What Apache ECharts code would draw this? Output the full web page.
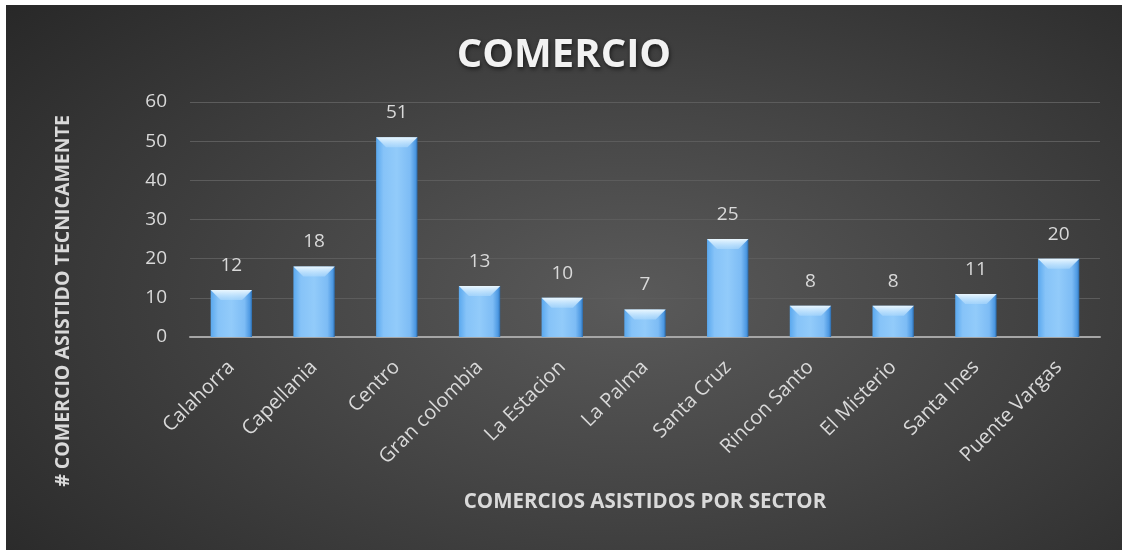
<!DOCTYPE html>
<html>
<head>
<meta charset="utf-8">
<script src="https://cdn.jsdelivr.net/npm/echarts@6/dist/echarts.min.js"></script>
<style>
  html, body { margin: 0; padding: 0; background: #ffffff; width: 1122px; height: 550px; overflow: hidden; }
  #chart { position: absolute; left: 6px; top: 5px; width: 1116px; height: 545px;
    background: radial-gradient(ellipse 75% 85% at 56% 54%, #5a5a5a 0%, #464646 40%, #272727 100%); }
</style>
</head>
<body>
<div id="chart"></div>
<script>
const categories = ['Calahorra', 'Capellania', 'Centro', 'Gran colombia', 'La Estacion', 'La Palma', 'Santa Cruz', 'Rincon Santo', 'El Misterio', 'Santa Ines', 'Puente Vargas'];
const values = [12, 18, 51, 13, 10, 7, 25, 8, 8, 11, 20];
const yTicks = { min: 0, max: 60, interval: 10 };
const titleText = 'COMERCIO';
const xTitle = 'COMERCIOS ASISTIDOS POR SECTOR';
const yTitle = '# COMERCIO ASISTIDO TECNICAMENTE';

const FONT = 'Open Sans';
const chart = echarts.init(document.getElementById('chart'), null, { renderer: 'canvas' });

function bevelItem(params, api) {
  const top = api.coord([api.value(0), api.value(1)]);
  const w = api.size([1, 0])[0] * 0.5;
  const b = Math.min(10, w / 4);
  const xl = top[0] - w / 2, xr = top[0] + w / 2, y = top[1];
  return {
    type: 'polygon',
    shape: { points: [[xl, y], [xr, y], [xr - b, y + b], [xl + b, y + b]] },
    style: {
      fill: new echarts.graphic.LinearGradient(0, 0, 0, 1, [
        { offset: 0, color: 'rgba(240,250,255,0.95)' },
        { offset: 1, color: 'rgba(175,218,252,0.6)' }
      ])
    },
    silent: true
  };
}

chart.setOption({
  backgroundColor: 'transparent',
  animation: false,
  textStyle: { fontFamily: FONT },
  title: {
    text: titleText,
    left: 'center',
    top: 31,
    padding: 0,
    textStyle: {
      fontFamily: FONT, fontSize: 40, fontWeight: 'bold', color: '#f2f2f2',
      textShadowColor: 'rgba(0,0,0,0.6)', textShadowBlur: 4, textShadowOffsetX: 1, textShadowOffsetY: 2
    }
  },
  graphic: [{
    type: 'text',
    x: 57,
    y: 296,
    rotation: Math.PI / 2,
    style: {
      text: yTitle,
      x: 0, y: 0,
      align: 'center',
      verticalAlign: 'middle',
      fontFamily: FONT, fontSize: 19.5, fontWeight: 'bold', fill: '#d9d9d9'
    },
    z: 10
  }],
  grid: { left: 184, right: 22, top: 97, bottom: 213, containLabel: false },
  xAxis: {
    type: 'category',
    data: categories,
    name: xTitle,
    nameLocation: 'middle',
    nameGap: 155,
    nameTextStyle: { fontFamily: FONT, fontSize: 20.5, fontWeight: 'bold', color: '#d9d9d9' },
    axisLine: { show: true, lineStyle: { color: '#a6a6a6', width: 2 } },
    axisTick: { show: false },
    axisLabel: { rotate: 45, margin: 27, fontSize: 20, color: '#d9d9d9', fontFamily: FONT, interval: 0 }
  },
  yAxis: {
    type: 'value',
    min: yTicks.min, max: yTicks.max, interval: yTicks.interval,
    axisLine: { show: false },
    axisTick: { show: false },
    axisLabel: { fontSize: 19, color: '#d9d9d9', margin: 23, fontFamily: FONT },
    splitLine: { lineStyle: { color: '#5c5c5c', width: 1 } }
  },
  series: [{
    type: 'bar',
    data: values,
    barWidth: '50%',
    itemStyle: {
      color: new echarts.graphic.LinearGradient(0, 0, 1, 0, [
        { offset: 0, color: '#5aa8ee' },
        { offset: 0.18, color: '#86c3f8' },
        { offset: 0.5, color: '#92cbfa' },
        { offset: 0.82, color: '#7dbcf5' },
        { offset: 0.95, color: '#4c98e2' },
        { offset: 1, color: '#2d6aa8' }
      ]),
      borderWidth: 0
    },
    label: {
      show: true, position: 'top', distance: 15,
      fontSize: 19, color: '#d9d9d9', fontFamily: FONT
    }
  }, {
    type: 'custom',
    renderItem: bevelItem,
    data: values.map((v, i) => [i, v]),
    encode: { x: 0, y: 1 },
    silent: true,
    z: 3
  }]
});
</script>
</body>
</html>
